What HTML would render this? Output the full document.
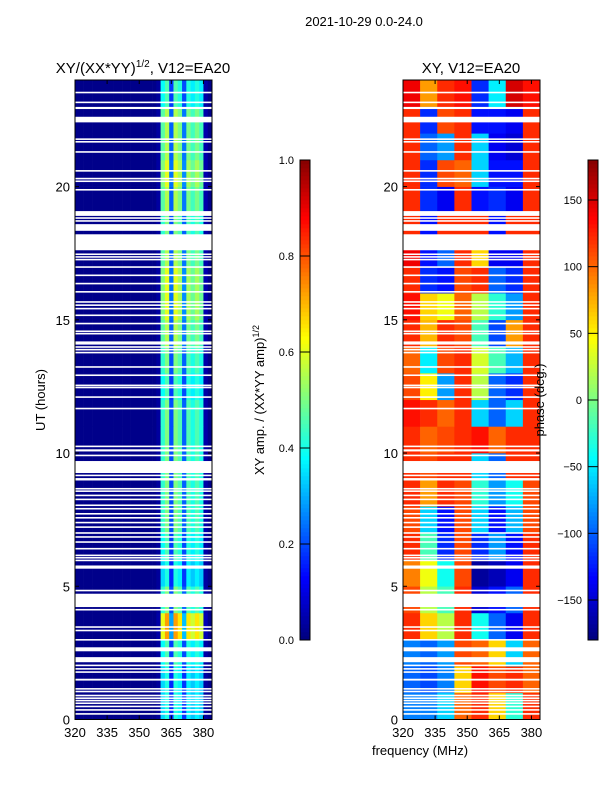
<!DOCTYPE html>
<html><head><meta charset="utf-8"><style>
body{margin:0;background:#fff;width:600px;height:800px;overflow:hidden;font-family:"Liberation Sans",sans-serif}
svg text{font-family:"Liberation Sans",sans-serif;fill:#000}
</style></head><body>
<svg id="chart" width="600" height="800" viewBox="0 0 600 800" xmlns="http://www.w3.org/2000/svg">
<text x="364" y="26" font-size="13" text-anchor="middle">2021-10-29 0.0-24.0</text>
<text x="143" y="73" font-size="15" text-anchor="middle">XY/(XX*YY)<tspan font-size="10" dy="-6">1/2</tspan><tspan dy="6">, V12=EA20</tspan></text>
<text x="471" y="73" font-size="15" text-anchor="middle">XY, V12=EA20</text>
<text transform="translate(45,400) rotate(-90)" font-size="13" text-anchor="middle">UT (hours)</text>
<text x="420" y="755" font-size="13" text-anchor="middle">frequency (MHz)</text>
<text transform="translate(264,400) rotate(-90)" font-size="13" text-anchor="middle">XY amp. / (XX*YY amp)<tspan font-size="9" dy="-5">1/2</tspan></text>
<g id="left"></g>
<g id="right"></g>
<g id="axes"></g>
<g id="cbars"></g>
<text transform="translate(544,400) rotate(-90)" font-size="13" text-anchor="middle">phase (deg.)</text>
</svg>
<script>
// ---- data ----
const hours = [0,1,2,3,4,5,6,7,8,9,10,11,12,13,14,15,16,17,18,19,20,21,22,23];
// amplitude channel profile, 2 MHz channels 320..384
const ampChannelProfile = [0.01,0.01,0.01,0.01,0.01,0.01,0.01,0.01,0.01,0.01,0.01,0.01,0.01,0.01,0.01,0.01,0.01,0.01,0.01,0.03,0.42,0.5,0.2,0.5,0.45,0.22,0.45,0.4,0.45,0.4,0.04,0.01];
const ampHourLevel = [0.8,0.8,0.9,1.45,1.0,0.8,0.9,1.0,1.0,1.0,1.0,1.0,0.9,1.0,1.1,1.2,1.2,1.1,1.0,1.1,1.2,1.1,1.1,0.9];
// phase grid (deg): rows = hours, cols = 8 MHz bins 320..384
const phaseGrid = [
[-90,-90,-60,100,120,60,-30,120],
[-100,-110,-90,60,130,110,120,100],
[-90,-100,-80,110,100,60,-60,100],
[120,60,20,120,-40,-100,-140,120],
[110,20,-20,120,-150,-130,-100,120],
[90,40,-40,110,-170,-160,-140,120],
[120,-20,-120,110,-120,-80,-130,120],
[110,-60,-130,110,-60,-130,-70,110],
[120,80,120,110,-30,-80,-40,110],
[120,110,120,120,-60,-100,120,120],
[120,100,110,120,130,100,120,120],
[130,120,100,120,-60,-100,-60,120],
[110,50,-80,120,20,-100,-120,120],
[100,-50,110,120,30,-20,-70,120],
[120,70,120,110,-20,-110,80,120],
[130,60,40,100,20,-30,-80,120],
[120,-120,-130,110,120,-100,-120,120],
[140,-130,-100,120,60,-140,-140,120],
[120,-130,120,120,120,-130,120,120],
[120,-120,-140,120,-130,-120,-140,120],
[120,-120,110,100,-60,-130,-130,120],
[120,-100,-80,120,-60,-140,-150,120],
[120,-120,110,120,-130,-130,-140,120],
[140,80,120,130,-120,-50,150,130]];
// flagged (blank) intervals in UT hours [start,end]
const gaps = [[23.50,23.56],[23.13,23.19],[22.91,22.99],[22.41,22.62],[21.75,21.81],[21.65,21.71],[21.27,21.33],[20.56,20.62],[20.27,20.33],[20.17,20.23],[19.85,19.91],[18.90,19.08],[18.79,18.85],[18.68,18.74],[18.34,18.59],[17.61,18.21],[17.43,17.49],[17.33,17.39],[17.23,17.29],[16.95,17.01],[16.64,16.70],[16.33,16.39],[16.02,16.08],[15.64,15.70],[15.52,15.58],[15.39,15.45],[15.14,15.20],[14.83,14.89],[14.54,14.60],[14.45,14.51],[14.07,14.19],[13.95,14.01],[13.85,13.91],[13.74,13.80],[13.20,13.26],[12.89,12.95],[12.51,12.57],[12.43,12.49],[12.07,12.13],[11.64,11.70],[10.22,10.28],[10.06,10.14],[9.88,9.94],[9.25,9.70],[9.13,9.19],[8.97,9.06],[8.63,8.69],[8.54,8.60],[8.38,8.44],[8.23,8.29],[8.01,8.07],[7.88,7.94],[7.69,7.75],[7.54,7.60],[7.36,7.42],[7.19,7.25],[6.97,7.03],[6.82,6.88],[6.63,6.69],[6.38,6.44],[6.13,6.19],[6.04,6.10],[5.94,6.00],[5.66,5.78],[4.81,4.87],[4.22,4.72],[4.09,4.15],[3.44,3.50],[3.31,3.37],[2.96,3.02],[2.56,2.71],[2.15,2.34],[2.00,2.06],[1.87,1.93],[1.75,1.81],[1.46,1.53],[1.12,1.18],[1.02,1.08],[0.87,0.93],[0.77,0.83],[0.68,0.74],[0.58,0.64],[0.46,0.52],[0.33,0.39],[0.18,0.24]];
const yTicks = [0,5,10,15,20];
const xTicks = [320,335,350,365,380];
const ampTicks = [0.0,0.2,0.4,0.6,0.8,1.0];
const phaseTicks = [-150,-100,-50,0,50,100,150];

// ---- scales ----
const NS='http://www.w3.org/2000/svg';
const Y0=719.5, Y1=80, FMIN=320, FMAX=384;
const yS = ut => Y0 - (ut/24)*(Y0-Y1);
const xL = f => 75 + (f-FMIN)/(FMAX-FMIN)*137;
const xR = f => 403 + (f-FMIN)/(FMAX-FMIN)*137;
function jet(v){v=Math.max(0,Math.min(1,v));const c=t=>Math.round(255*Math.max(0,Math.min(1,1.5-Math.abs(4*v-t))));return `rgb(${c(3)},${c(2)},${c(1)})`;}
function el(tag,attrs,parent){const e=document.createElementNS(NS,tag);for(const k in attrs)e.setAttribute(k,attrs[k]);parent.appendChild(e);return e;}

const L=document.getElementById('left'), R=document.getElementById('right');
hours.forEach((h,hi)=>{
  ampChannelProfile.forEach((p,ci)=>{
    const bg=0.01, v=bg+(p-bg)*ampHourLevel[hi];
    const f0=FMIN+ci*2, f1=f0+2;
    const r=el('rect',{x:xL(f0),y:yS(h+1),width:xL(f1)-xL(f0)+0.3,height:yS(h)-yS(h+1)+0.3,fill:jet(v)},L);
    
    
  });
  phaseGrid[hi].forEach((ph,ci)=>{
    const f0=FMIN+ci*8, f1=f0+8;
    const r=el('rect',{x:xR(f0),y:yS(h+1),width:xR(f1)-xR(f0)+0.3,height:yS(h)-yS(h+1)+0.3,fill:jet((ph+180)/360)},R);
    
    
  });
});
gaps.forEach(g=>{
  [[L,xL],[R,xR]].forEach(([P,xs])=>{
    const r=el('rect',{x:xs(FMIN),y:yS(g[1]),width:137,height:Math.max(1.2,yS(g[0])-yS(g[1])),fill:'#fff'},P);
    
    
  });
});
const A=document.getElementById('axes');
[75,403].forEach((x0,pi)=>{
  const fr=el('rect',{x:x0,y:Y1,width:137,height:Y0-Y1,fill:'none',stroke:'#000','stroke-width':1},A);
  
  
  const xs=pi?xR:xL;
  yTicks.forEach(t=>{
    const y=yS(t);
    el('line',{x1:x0,x2:x0+4,y1:y,y2:y,stroke:'#000'},A);
    el('line',{x1:x0+137,x2:x0+133,y1:y,y2:y,stroke:'#000'},A);
    const tx=el('text',{x:x0-5,y:y+5,'font-size':13,'text-anchor':'end'},A);
    tx.textContent=t;
    
    
  });
  xTicks.forEach(t=>{
    const x=xs(t);
    el('line',{x1:x,x2:x,y1:Y0,y2:Y0-4,stroke:'#000'},A);
    el('line',{x1:x,x2:x,y1:Y1,y2:Y1+4,stroke:'#000'},A);
    const tx=el('text',{x:x,y:737,'font-size':13,'text-anchor':'middle'},A);
    tx.textContent=t;
    
    
  });
});
const C=document.getElementById('cbars');
const CB0=640, CB1=160;
for(let i=0;i<120;i++){
  const v=i/120, y=CB0-(i+1)*4;
  el('rect',{x:300,y:y,width:10,height:4.3,fill:jet(v)},C);
  el('rect',{x:588,y:y,width:10,height:4.3,fill:jet(v)},C);
}
const f1=el('rect',{x:300,y:CB1,width:10,height:CB0-CB1,fill:'none',stroke:'#000'},C);


const f2=el('rect',{x:588,y:CB1,width:10,height:CB0-CB1,fill:'none',stroke:'#000'},C);


ampTicks.forEach(t=>{
  const y=CB0-t*(CB0-CB1);
  el('line',{x1:300,x2:310,y1:y,y2:y,stroke:'#000'},C);
  const tx=el('text',{x:294,y:y+4,'font-size':11,'text-anchor':'end'},C);
  tx.textContent=t.toFixed(1);
  
  
});
phaseTicks.forEach(t=>{
  const y=CB0-(t+180)/360*(CB0-CB1);
  el('line',{x1:588,x2:598,y1:y,y2:y,stroke:'#000'},C);
  const tx=el('text',{x:582,y:y+4,'font-size':11,'text-anchor':'end'},C);
  tx.textContent=t<0?'\u2212'+(-t):t;
  
  
});
</script>
</body></html>
